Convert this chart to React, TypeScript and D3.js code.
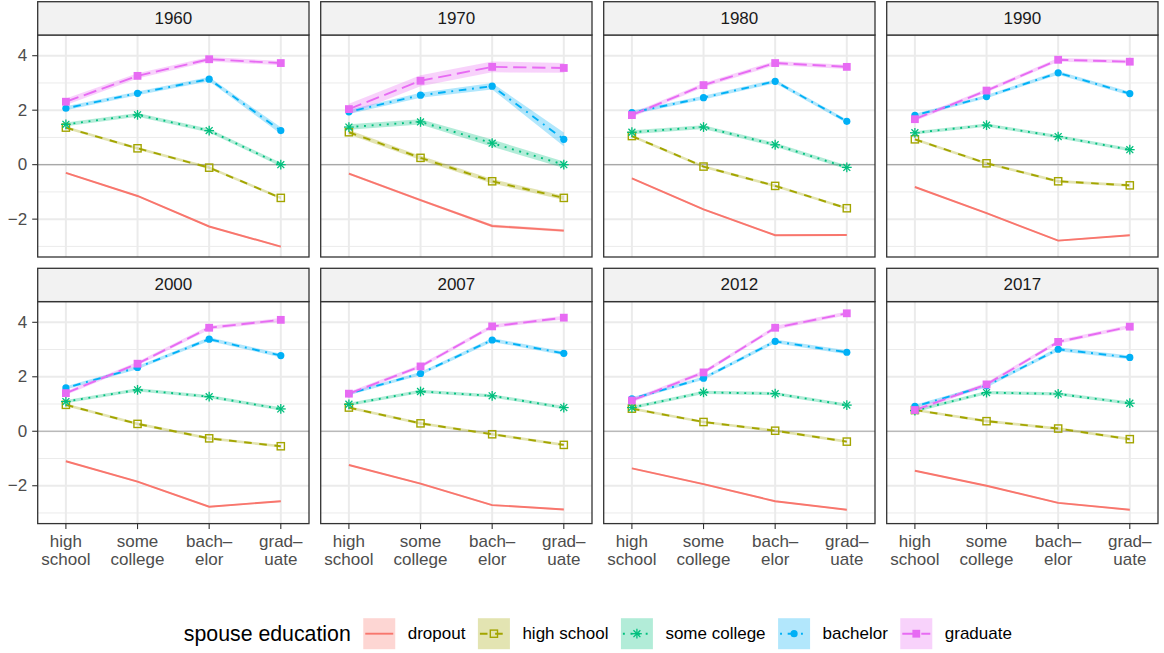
import React from "react";
import * as d3 from "d3";

// ---------- data ----------
const years = ["1960", "1970", "1980", "1990", "2000", "2007", "2012", "2017"];
const educLevels = ["high school", "some college", "bachelor", "graduate"];
const xTickLabels = [["high", "school"], ["some", "college"], ["bach–", "elor"], ["grad–", "uate"]];
const yTicks = [-2, 0, 2, 4];
const yMinor = [-3, -1, 1, 3];
const spouseLevels = ["dropout", "high school", "some college", "bachelor", "graduate"];
const seriesColors = ["#F8766D", "#A3A500", "#00BF7D", "#00B0F6", "#E76BF3"];

const dropout = [
  [-0.30, -1.15, -2.27, -3.01], [-0.33, -1.30, -2.25, -2.42], [-0.50, -1.64, -2.59, -2.58], [-0.82, -1.78, -2.79, -2.59],
  [-1.10, -1.85, -2.77, -2.57], [-1.24, -1.92, -2.71, -2.87], [-1.36, -1.94, -2.57, -2.88], [-1.45, -2.00, -2.63, -2.88],
];
const highSchool = [
  [1.36, 0.60, -0.11, -1.22], [1.19, 0.25, -0.61, -1.22], [1.05, -0.07, -0.78, -1.60], [0.93, 0.05, -0.61, -0.76],
  [0.97, 0.27, -0.26, -0.55], [0.87, 0.29, -0.11, -0.50], [0.83, 0.34, 0.02, -0.38], [0.78, 0.37, 0.10, -0.29],
];
const someCollege = [
  [1.48, 1.83, 1.25, 0.0], [1.38, 1.57, 0.79, 0.0], [1.19, 1.38, 0.73, -0.10], [1.17, 1.45, 1.03, 0.55],
  [1.09, 1.52, 1.27, 0.82], [0.99, 1.46, 1.30, 0.87], [0.87, 1.43, 1.38, 0.96], [0.76, 1.42, 1.37, 1.03],
];
const bachelor = [
  [2.07, 2.62, 3.14, 1.25], [1.94, 2.55, 2.88, 0.93], [1.91, 2.46, 3.06, 1.59], [1.81, 2.50, 3.37, 2.61],
  [1.59, 2.34, 3.38, 2.78], [1.38, 2.12, 3.35, 2.86], [1.19, 1.95, 3.30, 2.90], [0.91, 1.67, 3.01, 2.71],
];
const graduate = [
  [2.31, 3.26, 3.87, 3.73], [2.04, 3.08, 3.59, 3.55], [1.82, 2.92, 3.73, 3.59], [1.67, 2.72, 3.85, 3.78],
  [1.40, 2.48, 3.80, 4.09], [1.38, 2.38, 3.85, 4.17], [1.13, 2.16, 3.80, 4.33], [0.78, 1.72, 3.28, 3.84],
];

// ribbon half-widths (standard-error bands)
const dropoutSE = [
  [0.03, 0.03, 0.03, 0.03], [0.04, 0.04, 0.05, 0.05], [0.03, 0.03, 0.03, 0.03], [0.03, 0.03, 0.03, 0.03],
  [0.03, 0.03, 0.03, 0.03], [0.03, 0.03, 0.03, 0.03], [0.03, 0.03, 0.03, 0.03], [0.03, 0.03, 0.03, 0.03],
];
const highSchoolSE = [
  [0.05, 0.05, 0.05, 0.05], [0.08, 0.08, 0.08, 0.08], [0.05, 0.05, 0.05, 0.05], [0.05, 0.05, 0.05, 0.05],
  [0.05, 0.05, 0.05, 0.05], [0.05, 0.05, 0.05, 0.05], [0.05, 0.05, 0.05, 0.05], [0.05, 0.05, 0.05, 0.05],
];
const someCollegeSE = [
  [0.07, 0.07, 0.07, 0.07], [0.10, 0.10, 0.13, 0.12], [0.07, 0.07, 0.07, 0.07], [0.06, 0.06, 0.06, 0.06],
  [0.06, 0.06, 0.06, 0.06], [0.06, 0.06, 0.06, 0.06], [0.06, 0.06, 0.06, 0.06], [0.06, 0.06, 0.06, 0.06],
];
const bachelorSE = [
  [0.07, 0.07, 0.08, 0.12], [0.08, 0.09, 0.12, 0.25], [0.07, 0.07, 0.07, 0.07], [0.06, 0.06, 0.07, 0.07],
  [0.06, 0.06, 0.07, 0.07], [0.06, 0.06, 0.07, 0.07], [0.06, 0.06, 0.07, 0.07], [0.06, 0.06, 0.07, 0.07],
];
const graduateSE = [
  [0.12, 0.10, 0.08, 0.08], [0.20, 0.20, 0.20, 0.18], [0.08, 0.08, 0.08, 0.08], [0.07, 0.07, 0.07, 0.07],
  [0.07, 0.07, 0.07, 0.07], [0.07, 0.07, 0.07, 0.07], [0.07, 0.07, 0.07, 0.07], [0.07, 0.07, 0.07, 0.07],
];

const seriesValues = [dropout, highSchool, someCollege, bachelor, graduate];
const seriesSE = [dropoutSE, highSchoolSE, someCollegeSE, bachelorSE, graduateSE];

// ---------- styling / layout ----------
const W = 1164, H = 653;
const FONT = "'Liberation Sans', Arial, Helvetica, sans-serif";
const panelLeft0 = 37.7, panelW = 271.3, colStep = 283;
const rowStripTop = [1.7, 268.3];
const stripH = 33.3;
const panelH = 222;
const xPad = 28.2;
const yDomain: [number, number] = [-3.39, 4.76];
const lw = 1.9;
const dashes = ["", `${4 * lw},${4 * lw}`, `${lw},${3 * lw}`, `${lw},${3 * lw},${4 * lw},${3 * lw}`, `${7 * lw},${3 * lw}`];
const shapes = ["none", "openSquare", "asterisk", "circle", "square"];

function Marker({ shape, x, y, color }: { shape: string; x: number; y: number; color: string }) {
  if (shape === "openSquare") {
    const s = 7.2;
    return <rect x={x - s / 2} y={y - s / 2} width={s} height={s} fill="none" stroke={color} strokeWidth={1.4} />;
  }
  if (shape === "square") {
    const s = 7.8;
    return <rect x={x - s / 2} y={y - s / 2} width={s} height={s} fill={color} />;
  }
  if (shape === "circle") {
    return <circle cx={x} cy={y} r={3.6} fill={color} />;
  }
  if (shape === "asterisk") {
    const r = 4.9, d = r * 0.7071;
    return (
      <g stroke={color} strokeWidth={1.3}>
        <line x1={x - r} y1={y} x2={x + r} y2={y} />
        <line x1={x} y1={y - r} x2={x} y2={y + r} />
        <line x1={x - d} y1={y - d} x2={x + d} y2={y + d} />
        <line x1={x - d} y1={y + d} x2={x + d} y2={y - d} />
      </g>
    );
  }
  return null;
}

function measure(text: string, size: number): number {
  if (typeof document === "undefined") return text.length * size * 0.5;
  const c = document.createElement("canvas");
  const ctx = c.getContext("2d");
  if (!ctx) return text.length * size * 0.5;
  ctx.font = `${size}px 'Liberation Sans', Arial, sans-serif`;
  return ctx.measureText(text).width;
}

function Panel({ idx }: { idx: number }) {
  const col = idx % 4, row = Math.floor(idx / 4);
  const left = panelLeft0 + col * colStep;
  const stripTop = rowStripTop[row];
  const top = stripTop + stripH;
  const bottom = top + panelH;
  const x = d3.scalePoint<string>().domain(educLevels).range([left + xPad, left + panelW - xPad]);
  const y = d3.scaleLinear().domain(yDomain).range([bottom, top]);
  const showY = col === 0;

  const line = d3.line<number>().x((_, i) => x(educLevels[i]) as number).y((v) => y(v));

  return (
    <g>
      <rect x={left} y={top} width={panelW} height={panelH} fill="#FFFFFF" />
      {yMinor.map((v) => (
        <line key={"mi" + v} x1={left} x2={left + panelW} y1={y(v)} y2={y(v)} stroke="#EBEBEB" strokeWidth={1} />
      ))}
      {yTicks.map((v) => (
        <line key={"ma" + v} x1={left} x2={left + panelW} y1={y(v)} y2={y(v)} stroke="#EBEBEB" strokeWidth={2} />
      ))}
      {educLevels.map((e) => (
        <line key={"vx" + e} x1={x(e)} x2={x(e)} y1={top} y2={bottom} stroke="#EBEBEB" strokeWidth={2} />
      ))}
      <line x1={left} x2={left + panelW} y1={y(0)} y2={y(0)} stroke="#A8A8A8" strokeWidth={1.1} />

      {seriesValues.map((sv, s) => {
        const vals = sv[idx], se = seriesSE[s][idx];
        const area = d3
          .area<number>()
          .x((_, i) => x(educLevels[i]) as number)
          .y0((v, i) => y(v - se[i]))
          .y1((v, i) => y(v + se[i]));
        return <path key={"rb" + s} d={area(vals) || ""} fill={seriesColors[s]} fillOpacity={0.3} stroke="none" />;
      })}
      {seriesValues.map((sv, s) => (
        <path
          key={"ln" + s}
          d={line(sv[idx]) || ""}
          fill="none"
          stroke={seriesColors[s]}
          strokeWidth={lw}
          strokeDasharray={dashes[s] || undefined}
        />
      ))}
      {seriesValues.map((sv, s) =>
        sv[idx].map((v, i) => (
          <Marker key={"pt" + s + "-" + i} shape={shapes[s]} x={x(educLevels[i]) as number} y={y(v)} color={seriesColors[s]} />
        ))
      )}

      <rect x={left} y={top} width={panelW} height={panelH} fill="none" stroke="#333333" strokeWidth={1.3} />
      <rect x={left} y={stripTop} width={panelW} height={stripH} fill="#F2F2F2" stroke="#333333" strokeWidth={1.3} />
      <text
        x={left + panelW / 2}
        y={stripTop + stripH / 2}
        textAnchor="middle"
        dominantBaseline="central"
        fontFamily={FONT}
        fontSize={17}
        fill="#1A1A1A"
      >
        {years[idx]}
      </text>

      {showY &&
        yTicks.map((v) => (
          <g key={"yt" + v}>
            <line x1={left - 5.5} x2={left} y1={y(v)} y2={y(v)} stroke="#333333" strokeWidth={1.1} />
            <text
              x={left - 10.5}
              y={y(v)}
              textAnchor="end"
              dominantBaseline="central"
              fontFamily={FONT}
              fontSize={17}
              fill="#4D4D4D"
            >
              {v < 0 ? "\u2212" + Math.abs(v) : String(v)}
            </text>
          </g>
        ))}

      {row === 1 &&
        educLevels.map((e, i) => (
          <g key={"xt" + e}>
            <line x1={x(e)} x2={x(e)} y1={bottom} y2={bottom + 5.5} stroke="#333333" strokeWidth={1.1} />
            <text x={x(e)} y={bottom + 23} textAnchor="middle" fontFamily={FONT} fontSize={17} fill="#4D4D4D">
              {xTickLabels[i][0]}
            </text>
            <text x={x(e)} y={bottom + 41.7} textAnchor="middle" fontFamily={FONT} fontSize={17} fill="#4D4D4D">
              {xTickLabels[i][1]}
            </text>
          </g>
        ))}
    </g>
  );
}

function Legend() {
  const title = "spouse education";
  const titleSize = 21.3, labelSize = 17;
  const keyW = 32, keyH = 31, gap = 12.5;
  const titleW = measure(title, titleSize);
  const labelWs = spouseLevels.map((l) => measure(l, labelSize));
  const total = titleW + spouseLevels.reduce((acc, _, i) => acc + gap + keyW + gap + labelWs[i], 0);
  const plotCenter = (panelLeft0 + panelLeft0 + 3 * colStep + panelW) / 2;
  let cx = plotCenter - total / 2;
  const cy = 633.7;
  const items: any[] = [];
  items.push(
    <text key="title" x={cx} y={cy} dominantBaseline="central" fontFamily={FONT} fontSize={titleSize} fill="#000">
      {title}
    </text>
  );
  cx += titleW;
  spouseLevels.forEach((lab, s) => {
    cx += gap;
    const kx = cx;
    items.push(
      <g key={"k" + s}>
        <rect x={kx} y={cy - keyH / 2} width={keyW} height={keyH} fill={seriesColors[s]} fillOpacity={0.3} />
        <line
          x1={kx + 2}
          x2={kx + keyW - 2}
          y1={cy}
          y2={cy}
          stroke={seriesColors[s]}
          strokeWidth={lw}
          strokeDasharray={dashes[s] || undefined}
        />
        <Marker shape={shapes[s]} x={kx + keyW / 2} y={cy} color={seriesColors[s]} />
      </g>
    );
    cx += keyW + gap;
    items.push(
      <text key={"l" + s} x={cx} y={cy} dominantBaseline="central" fontFamily={FONT} fontSize={labelSize} fill="#000">
        {lab}
      </text>
    );
    cx += labelWs[s];
  });
  return <g>{items}</g>;
}

export default function App() {
  return (
    <svg
      width={W}
      height={H}
      viewBox={`0 0 ${W} ${H}`}
      style={{ position: "absolute", left: 0, top: 0, background: "#FFFFFF" }}
    >
      <rect x={0} y={0} width={W} height={H} fill="#FFFFFF" />
      {years.map((_, i) => (
        <Panel key={i} idx={i} />
      ))}
      <Legend />
    </svg>
  );
}
